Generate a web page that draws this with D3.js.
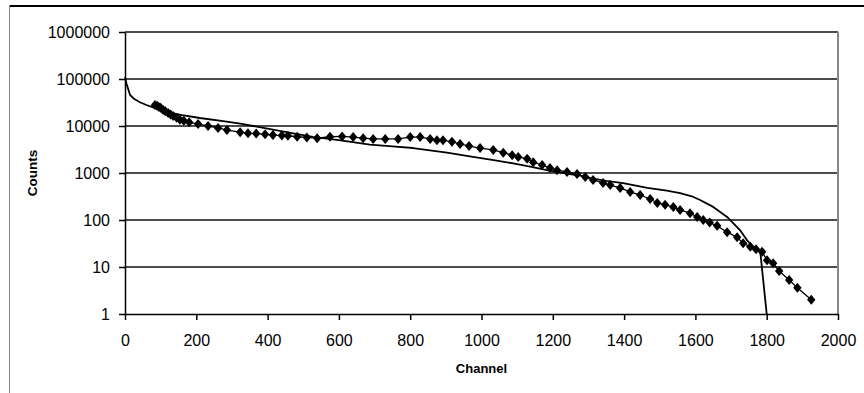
<!DOCTYPE html>
<html>
<head>
<meta charset="utf-8">
<script src="https://cdn.jsdelivr.net/npm/d3@7"></script>
<style>
  body { margin: 0; background: #fff; }
  svg { display: block; font-family: "Liberation Sans", Arial, sans-serif; }
</style>
</head>
<body>
<svg></svg>
<script>
// tick labels
const xTicks = [0, 200, 400, 600, 800, 1000, 1200, 1400, 1600, 1800, 2000];
const yTicks = [1, 10, 100, 1000, 10000, 100000, 1000000];

// solid curve (no markers)
const fitChannel = [0, 4, 14, 25, 42, 60, 79, 100, 130, 160, 210, 280, 323, 400, 460, 527, 600, 687, 750, 808,
  903, 976, 1030, 1089, 1140, 1183, 1248, 1277, 1313, 1350, 1397, 1465, 1520, 1557, 1590, 1613, 1650, 1689,
  1725, 1745, 1762, 1782, 1800];
const fitCounts = [110000, 80000, 46000, 38000, 32000, 28000, 25000, 22000, 19000, 17000, 14800, 12600, 11200, 8800,
  7200, 5900, 5000, 4000, 3700, 3400, 2700, 2200, 1900, 1600, 1350, 1150, 950, 880, 760, 680, 610, 480, 420, 375,
  320, 267, 190, 116, 61, 37, 27, 21, 1];

// measured points (diamonds)
const dataChannel = [84, 90, 95, 100, 107, 113, 121, 128, 135, 145, 154, 165, 180, 205, 233, 261, 286, 323, 345, 368,
  393, 415, 440, 457, 483, 510, 539, 575, 609, 640, 668, 696, 730, 766, 800, 828, 856, 875, 892, 917, 940, 965,
  996, 1033, 1061, 1086, 1103, 1128, 1145, 1170, 1192, 1212, 1240, 1268, 1291, 1313, 1341, 1361, 1389, 1417,
  1445, 1473, 1493, 1515, 1538, 1557, 1585, 1605, 1622, 1640, 1661, 1689, 1717, 1734, 1754, 1770, 1787, 1801,
  1818, 1835, 1863, 1886, 1925];
const dataCounts = [28000, 27000, 25500, 24500, 22000, 20500, 19000, 17500, 16400, 15000, 13600, 13000, 12000, 11000,
  10000, 9100, 8200, 7400, 7000, 6900, 6700, 6400, 6300, 6200, 5900, 5700, 5500, 5900, 6000, 5800, 5500, 5300,
  5300, 5300, 5800, 5800, 5300, 5000, 5000, 4600, 4150, 3750, 3400, 3100, 2700, 2400, 2200, 2000, 1700, 1480,
  1280, 1150, 1050, 950, 820, 710, 615, 555, 480, 395, 340, 280, 230, 210, 190, 164, 140, 116, 100, 88, 75, 55,
  43, 32, 27, 24, 21, 14, 12, 8.2, 5.3, 3.6, 2.0];

const fit = fitChannel.map((c, i) => ({ch: c, v: fitCounts[i]}));
const pts = dataChannel.map((c, i) => ({ch: c, v: dataCounts[i]}));

const W = 864, H = 393;
const plot = {left: 125, right: 838, top: 32, bottom: 314};

const svg = d3.select('svg').attr('width', W).attr('height', H);

// outer chart frame
svg.append('line').attr('x1', 9).attr('x2', W).attr('y1', 6).attr('y2', 6)
  .attr('stroke', '#000').attr('stroke-width', 2);
svg.append('line').attr('x1', 9.5).attr('x2', 9.5).attr('y1', 5).attr('y2', H)
  .attr('stroke', '#888').attr('stroke-width', 1);

const x = d3.scaleLinear().domain([0, 2000]).range([plot.left, plot.right]);
const y = d3.scaleLog().domain([1, 1000000]).range([plot.bottom, plot.top]);

// gridlines
svg.append('g').selectAll('line').data(yTicks.slice(1)).join('line')
  .attr('x1', plot.left).attr('x2', plot.right)
  .attr('y1', d => y(d)).attr('y2', d => y(d))
  .attr('stroke', '#111').attr('stroke-width', 1.5);

// plot area right edge
svg.append('line').attr('x1', plot.right).attr('x2', plot.right)
  .attr('y1', plot.top).attr('y2', plot.bottom)
  .attr('stroke', '#888').attr('stroke-width', 2);

// axes
const yAxis = svg.append('g')
  .attr('transform', 'translate(' + plot.left + ',0)')
  .call(d3.axisLeft(y).tickValues(yTicks).tickFormat(d3.format('d')).tickSize(6).tickSizeOuter(0).tickPadding(9));
const xAxis = svg.append('g')
  .attr('transform', 'translate(0,' + plot.bottom + ')')
  .call(d3.axisBottom(x).tickValues(xTicks).tickFormat(d3.format('d')).tickSize(6).tickSizeOuter(0).tickPadding(15));

[yAxis, xAxis].forEach(g => {
  g.selectAll('path, line').attr('stroke', '#000').attr('stroke-width', 1.5);
  g.selectAll('text').attr('font-size', 16).attr('fill', '#000')
    .attr('font-family', '"Liberation Sans", Arial, sans-serif');
});

// axis titles
svg.append('text')
  .attr('x', (plot.left + plot.right) / 2).attr('y', 373)
  .attr('text-anchor', 'middle').attr('font-size', 13).attr('font-weight', 'bold')
  .text('Channel');
svg.append('text')
  .attr('transform', 'translate(37,' + ((plot.top + plot.bottom) / 2) + ') rotate(-90)')
  .attr('text-anchor', 'middle').attr('font-size', 13.5).attr('font-weight', 'bold')
  .text('Counts');

const line = d3.line()
  .x(d => x(d.ch))
  .y(d => y(d.v));

// solid curve
svg.append('path')
  .datum(fit)
  .attr('fill', 'none')
  .attr('stroke', '#000')
  .attr('stroke-width', 1.8)
  .attr('stroke-linejoin', 'round')
  .attr('d', line);

// measured series with diamonds
svg.append('path')
  .datum(pts)
  .attr('fill', 'none')
  .attr('stroke', '#000')
  .attr('stroke-width', 1.3)
  .attr('d', line);

svg.append('g').selectAll('path').data(pts).join('path')
  .attr('transform', d => 'translate(' + x(d.ch) + ',' + y(d.v) + ')')
  .attr('d', 'M0,-5L4.2,0L0,5L-4.2,0Z')
  .attr('fill', '#000');
</script>
</body>
</html>
